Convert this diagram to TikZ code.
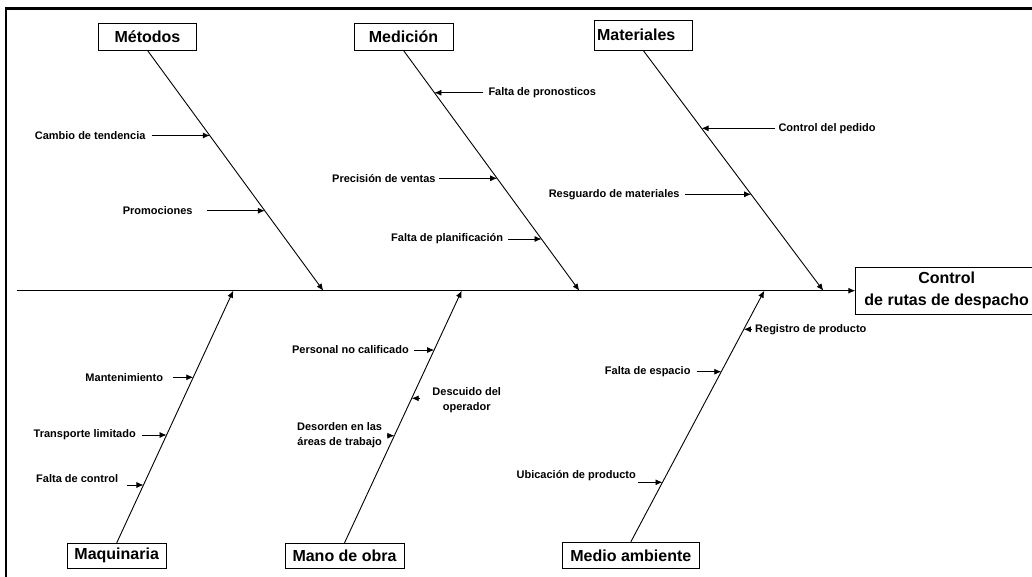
\documentclass[tikz,border=0pt]{standalone}
\usepackage{fontspec}
\setmainfont{Liberation Sans}
\usetikzlibrary{arrows.meta,calc}
\begin{document}
\begin{tikzpicture}[x=1pt,y=-1pt,
  cat/.style={draw, line width=0.8pt, font=\fontsize{16}{19}\selectfont\bfseries, inner xsep=3pt, inner ysep=0pt},
  lab/.style={font=\fontsize{11}{15.5}\selectfont\bfseries, inner sep=0pt},
  tipstyle/.style={-{Latex[length=7pt,width=6pt]}},
  bone/.style={line width=0.9pt, tipstyle},
  arr/.style={line width=0.8pt, tipstyle}]
\useasboundingbox (0,0) rectangle (1032,577);
\clip (0,0) rectangle (1032,577);
\draw[line width=2.5pt] (6,8.3) rectangle (1045,600);

% category boxes
\node[cat, minimum width=98.4pt, minimum height=26.7pt] (metodos) at (147.5,36.7) {Métodos};
\node[cat, minimum width=99pt, minimum height=26.7pt] (medicion) at (403.5,36.7) {Medición};
\node[cat, minimum height=30pt, text width=92.3pt, align=left] (materiales) at (643.2,35) {Materiales};
\node[cat, minimum width=98.7pt, minimum height=25pt] (maquinaria) at (116.7,555.8) {Maquinaria};
\node[cat, minimum width=119pt, minimum height=25pt] (mano) at (344.5,555.8) {Mano de obra};
\node[cat, minimum width=137pt, minimum height=26pt] (medio) at (630.8,555.3) {Medio ambiente};

% effect
\node[cat, minimum width=182pt, minimum height=46.7pt, align=center,
      font=\fontsize{16}{21.7}\selectfont\bfseries] (efecto) at (946.7,290.7) {Control\\de rutas de despacho};

% spine
\coordinate (spS) at (16.7,290.7);
\draw[arr, line width=1pt] (spS) -- (efecto.west);

% bone ends on spine
\coordinate (metE) at (323.3,290.7);
\coordinate (medE) at (579.3,290.7);
\coordinate (matE) at (823.3,290.7);
\coordinate (maqE) at (233.3,290.7);
\coordinate (manE) at (461.7,290.7);
\coordinate (medioE) at (764.3,290.7);

\draw[bone] (metodos.south) -- (metE);
\draw[bone] (medicion.south) -- (medE);
\draw[bone] (materiales.south) -- (matE);
\draw[bone] (maquinaria.north) -- (maqE);
\draw[bone] (mano.north) -- (manE);
\draw[bone] (medio.north) -- (medioE);

% tips on bones
\coordinate (t1) at (intersection of metodos.south--metE and 0,135.5--1,135.5);
\coordinate (t2) at (intersection of metodos.south--metE and 0,210.7--1,210.7);
\coordinate (t3) at (intersection of medicion.south--medE and 0,92.7--1,92.7);
\coordinate (t4) at (intersection of medicion.south--medE and 0,178.3--1,178.3);
\coordinate (t5) at (intersection of medicion.south--medE and 0,239--1,239);
\coordinate (t6) at (intersection of materiales.south--matE and 0,128.3--1,128.3);
\coordinate (t7) at (intersection of materiales.south--matE and 0,194.3--1,194.3);
\coordinate (t8) at (intersection of maquinaria.north--maqE and 0,377.3--1,377.3);
\coordinate (t9) at (intersection of maquinaria.north--maqE and 0,435--1,435);
\coordinate (t10) at (intersection of maquinaria.north--maqE and 0,485--1,485);
\coordinate (t11) at (intersection of mano.north--manE and 0,350--1,350);
\coordinate (t12) at (intersection of mano.north--manE and 0,398.3--1,398.3);
\coordinate (t13) at (intersection of mano.north--manE and 0,435.7--1,435.7);
\coordinate (t14) at (intersection of medio.north--medioE and 0,329.3--1,329.3);
\coordinate (t15) at (intersection of medio.north--medioE and 0,371.7--1,371.7);
\coordinate (t16) at (intersection of medio.north--medioE and 0,482.3--1,482.3);

% labels
\node[lab, anchor=east] (l1) at (145.7,135.5) {Cambio de tendencia};
\node[lab, anchor=east] (l2) at (192.7,210.7) {Promociones};
\node[lab, anchor=west] (l3) at (488.3,92.7) {Falta de pronosticos};
\node[lab, anchor=east] (l4) at (435.7,178.3) {Precisión de ventas};
\node[lab, anchor=east] (l5) at (503.3,239) {Falta de planificación};
\node[lab, anchor=west] (l6) at (778.3,128.3) {Control del pedido};
\node[lab, anchor=east] (l7) at (679.8,194.3) {Resguardo de materiales};
\node[lab, anchor=east] (l8) at (163.3,377.3) {Mantenimiento};
\node[lab, anchor=east] (l9) at (136,435) {Transporte limitado};
\node[lab, anchor=east] (l10) at (118.3,479) {Falta de control};
\node[lab, anchor=east] (l11) at (409,350) {Personal no calificado};
\node[lab, align=center] (l12) at (466.7,400) {Descuido del\\operador};
\node[lab, anchor=east, align=center] (l13) at (382.3,435.3) {Desorden en las\\áreas de trabajo};
\node[lab, anchor=west] (l14) at (755,329.3) {Registro de producto};
\node[lab, anchor=east] (l15) at (690.7,371.7) {Falta de espacio};
\node[lab, anchor=east] (l16) at (636,476) {Ubicación de producto};

% arrows
\draw[arr] ($(l1.east |- t1)+(6,0)$) -- (t1);
\draw[arr] ($(l2.east |- t2)+(14,0)$) -- (t2);
\draw[arr] ($(l3.west |- t3)+(-5,0)$) -- (t3);
\draw[arr] ($(l4.east |- t4)+(3.6,0)$) -- (t4);
\draw[arr] ($(l5.east |- t5)+(5,0)$) -- (t5);
\draw[arr] ($(l6.west |- t6)+(-3.3,0)$) -- (t6);
\draw[arr] ($(l7.east |- t7)+(5,0)$) -- (t7);
\draw[arr] ($(l8.east |- t8)+(9.4,0)$) -- (t8);
\draw[arr] ($(l9.east |- t9)+(5.7,0)$) -- (t9);
\draw[arr] ($(l10.east |- t10)+(8.4,0)$) -- (t10);
\draw[arr] ($(l11.east |- t11)+(5,0)$) -- (t11);
\draw[arr] ($(l12.west |- t12)+(-12,0)$) -- (t12);
\draw[arr] ($(l13.east |- t13)+(4.4,0)$) -- (t13);
\draw[arr] ($(l14.west |- t14)+(-3,0)$) -- (t14);
\draw[arr] ($(l15.east |- t15)+(6,0)$) -- (t15);
\draw[arr] ($(l16.east |- t16)+(2.3,0)$) -- (t16);
\end{tikzpicture}
\end{document}
